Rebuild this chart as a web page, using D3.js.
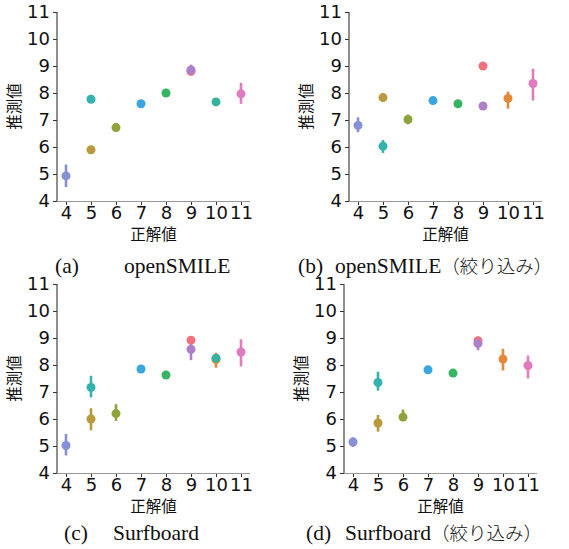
<!DOCTYPE html>
<html>
<head>
<meta charset="utf-8">
<script src="https://cdn.jsdelivr.net/npm/d3@7"></script>
<style>
body { margin: 0; background: #fff; }
svg { display: block; }
.tick line { stroke: #333; }
.lab { font-family: "Noto Sans CJK JP", sans-serif; font-size: 15.5px; fill: #111; }
.cap { font-family: "Liberation Serif", serif; font-size: 21.5px; fill: #111; }
.capjp { font-family: "Noto Sans CJK JP", sans-serif; font-size: 18.5px; font-weight: 300; }
</style>
</head>
<body>
<svg id="fig" width="569" height="549"></svg>
<script>
// categorie asse x e tick asse y
var categories = ["4", "5", "6", "7", "8", "9", "10", "11"];
var yTicks = [4, 5, 6, 7, 8, 9, 10, 11];

// colori per gruppo (hue)
var groupColors = {
  g4: "#8790d4", g5a: "#33b2ae", g5b: "#b89a3c", g6: "#8ea33a", g7: "#39a6df",
  g8: "#36b461", g9a: "#f0707f", g9b: "#ad7fc9", g10a: "#36b39c", g10b: "#e4893a", g11: "#e27abd"
};

// [categoria, gruppo, media, min, max]
var dataA = [
  ["4", "g4", 4.93, 4.52, 5.35], ["5", "g5a", 7.77, 7.74, 7.80], ["5", "g5b", 5.90, 5.84, 5.96],
  ["6", "g6", 6.72, 6.58, 6.86], ["7", "g7", 7.60, 7.57, 7.63], ["8", "g8", 8.00, 7.97, 8.03],
  ["9", "g9a", 8.80, 8.68, 8.90], ["9", "g9b", 8.85, 8.70, 9.05], ["10", "g10a", 7.67, 7.64, 7.70],
  ["11", "g11", 7.97, 7.60, 8.38]
];
var dataB = [
  ["4", "g4", 6.80, 6.55, 7.10], ["5", "g5b", 7.83, 7.74, 7.93], ["5", "g5a", 6.03, 5.78, 6.26],
  ["6", "g6", 7.02, 6.84, 7.20], ["7", "g7", 7.72, 7.69, 7.75], ["8", "g8", 7.60, 7.54, 7.66],
  ["9", "g9a", 9.00, 8.97, 9.03], ["9", "g9b", 7.52, 7.49, 7.55], ["10", "g10b", 7.80, 7.42, 8.05],
  ["11", "g11", 8.35, 7.72, 8.90]
];
var dataC = [
  ["4", "g4", 5.02, 4.65, 5.45], ["5", "g5a", 7.17, 6.80, 7.60], ["5", "g5b", 6.00, 5.58, 6.40],
  ["6", "g6", 6.20, 5.93, 6.55], ["7", "g7", 7.85, 7.82, 7.88], ["8", "g8", 7.63, 7.55, 7.70],
  ["9", "g9a", 8.92, 8.78, 9.05], ["9", "g9b", 8.58, 8.18, 8.90], ["10", "g10b", 8.20, 7.90, 8.45],
  ["10", "g10a", 8.25, 8.18, 8.32], ["11", "g11", 8.48, 7.95, 8.95]
];
var dataD = [
  ["4", "g4", 5.15, 4.97, 5.32], ["5", "g5a", 7.35, 7.05, 7.75], ["5", "g5b", 5.85, 5.53, 6.15],
  ["6", "g6", 6.07, 5.93, 6.35], ["7", "g7", 7.82, 7.79, 7.85], ["8", "g8", 7.70, 7.66, 7.74],
  ["9", "g9a", 8.90, 8.78, 9.05], ["9", "g9b", 8.80, 8.55, 9.00], ["10", "g10b", 8.22, 7.80, 8.60],
  ["11", "g11", 7.98, 7.50, 8.35]
];

// didascalie: [etichetta, nome, parte giapponese]
var captions = [
  ["(a)", "openSMILE", ""], ["(b)", "openSMILE", "（絞り込み）"],
  ["(c)", "Surfboard", ""], ["(d)", "Surfboard", "（絞り込み）"]
];

// posizione dei pannelli (spigolo alto-sinistra dell'area assi)
var panels = [
  {data: dataA, left: 57, top: 12, capL: 55, capN: 124, capY: 273},
  {data: dataB, left: 349, top: 12, capL: 298, capN: 335, capY: 273},
  {data: dataC, left: 57, top: 284, capL: 64, capN: 113, capY: 540},
  {data: dataD, left: 344, top: 284, capL: 306, capN: 345, capY: 540}
];
var pw = 193, ph = 189;

var svg = d3.select('#fig');

panels.forEach(function(p, k) {
  var g = svg.append('g').attr('transform', `translate(${p.left},${p.top})`);

  var x = d3.scalePoint().domain(categories).range([9, pw - 9]);
  var y = d3.scaleLinear().domain([4, 11]).range([ph, 0]);

  var yAxis = d3.axisLeft(y).tickValues(yTicks).tickFormat(d3.format('d')).tickSize(4).tickPadding(3);
  var xAxis = d3.axisBottom(x).tickSize(4).tickPadding(1);

  g.append('g').call(yAxis).call(a => a.select('.domain').remove());
  g.append('g').attr('transform', `translate(0,${ph})`).call(xAxis)
    .call(a => a.select('.domain').remove());

  g.selectAll('.tick text')
    .attr('font-family', '"DejaVu Sans", sans-serif')
    .attr('font-size', 18)
    .attr('fill', '#111');

  // spine
  g.append('line').attr('x1', 0).attr('x2', 0).attr('y1', 0).attr('y2', ph)
    .attr('stroke', '#444').attr('stroke-width', 1.2);
  g.append('line').attr('x1', 0).attr('x2', pw).attr('y1', ph + 0.5).attr('y2', ph + 0.5)
    .attr('stroke', '#999').attr('stroke-width', 1.2);

  // barre d'errore
  g.selectAll('.err').data(p.data).join('line')
    .attr('class', 'err')
    .attr('x1', d => x(d[0])).attr('x2', d => x(d[0]))
    .attr('y1', d => y(d[3])).attr('y2', d => y(d[4]))
    .attr('stroke', d => groupColors[d[1]]).attr('stroke-width', 2.6);

  // punti
  g.selectAll('.pt').data(p.data).join('circle')
    .attr('class', 'pt')
    .attr('cx', d => x(d[0])).attr('cy', d => y(d[2]))
    .attr('r', 4.5)
    .attr('fill', d => groupColors[d[1]]);

  g.append('text').attr('class', 'lab')
    .attr('transform', `translate(-35,${ph / 2}) rotate(-90)`)
    .attr('text-anchor', 'middle').attr('dy', '-0.1em')
    .text('推測値');
  g.append('text').attr('class', 'lab')
    .attr('x', pw / 2).attr('y', ph + 39)
    .attr('text-anchor', 'middle')
    .text('正解値');

  var c = captions[k];
  svg.append('text').attr('class', 'cap').attr('x', p.capL).attr('y', p.capY).text(c[0]);
  var name = svg.append('text').attr('class', 'cap').attr('x', p.capN).attr('y', p.capY);
  name.append('tspan').text(c[1]);
  if (c[2]) name.append('tspan').attr('class', 'capjp').text(c[2]);
});
</script>
</body>
</html>
